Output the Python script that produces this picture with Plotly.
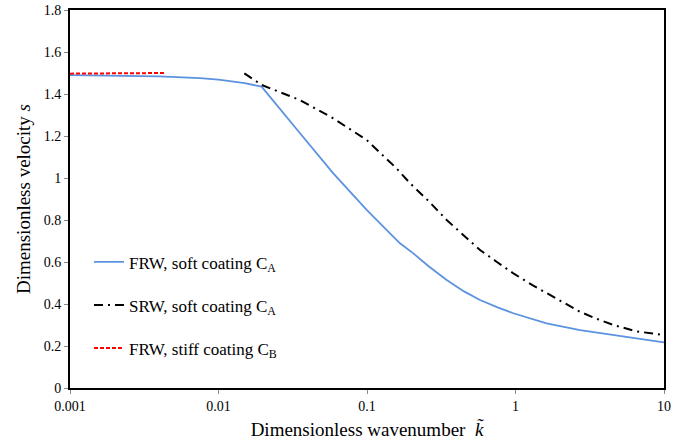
import plotly.graph_objects as go

# FRW, soft coating C_A
frw_soft_k = [0.001, 0.002, 0.004, 0.0075, 0.01, 0.015, 0.0195, 0.0354, 0.0593, 0.0995,
              0.1224, 0.1667, 0.205, 0.26, 0.344, 0.45, 0.577, 0.75, 0.967, 1.62, 2.72, 4.56, 10]
frw_soft_s = [1.490, 1.488, 1.484, 1.476, 1.468, 1.452, 1.435, 1.213, 1.022, 0.848,
              0.784, 0.689, 0.641, 0.58, 0.514, 0.46, 0.419, 0.385, 0.356, 0.308, 0.276, 0.252, 0.217]

# SRW, soft coating C_A
srw_soft_k = [0.01493, 0.01954, 0.0354, 0.0593, 0.0995, 0.158, 0.195, 0.26, 0.344, 0.45,
              0.577, 0.75, 0.967, 1.3, 1.62, 2.1, 2.72, 3.5, 4.56, 6.5, 10]
srw_soft_s = [1.498, 1.443, 1.371, 1.284, 1.181, 1.046, 0.975, 0.89, 0.80, 0.725,
              0.657, 0.60, 0.546, 0.49, 0.451, 0.405, 0.363, 0.33, 0.30, 0.27, 0.252]

# FRW, stiff coating C_B
frw_stiff_k = [0.001, 0.00443]
frw_stiff_s = [1.497, 1.50]

x_tickvals = [0.001, 0.01, 0.1, 1, 10]
x_ticktext = ["0.001", "0.01", "0.1", "1", "10"]
y_tickvals = [0, 0.2, 0.4, 0.6, 0.8, 1.0, 1.2, 1.4, 1.6, 1.8]
y_ticktext = ["0", "0.2", "0.4", "0.6", "0.8", "1", "1.2", "1.4", "1.6", "1.8"]

font_family = "Times New Roman"

fig = go.Figure()
fig.add_trace(go.Scatter(x=frw_soft_k, y=frw_soft_s, mode="lines",
                         name="FRW, soft coating C<sub>A</sub>", legendgroup="a",
                         line=dict(color="#5b93e0", width=1.8)))
fig.add_trace(go.Scatter(x=srw_soft_k, y=srw_soft_s, mode="lines",
                         name="SRW, soft coating C<sub>A</sub>", legendgroup="b",
                         line=dict(color="black", width=2, dash="9px,5px,2px,5px")))
fig.add_trace(go.Scatter(x=frw_stiff_k, y=frw_stiff_s, mode="lines",
                         name="FRW, stiff coating C<sub>B</sub>", legendgroup="c",
                         line=dict(color="red", width=2, dash="4px,2px")))

fig.update_layout(
    width=700, height=441,
    margin=dict(l=70, r=36, t=10, b=53, autoexpand=False),
    paper_bgcolor="white", plot_bgcolor="white",
    font=dict(family=font_family, color="black", size=14),
    showlegend=True,
    legend=dict(x=0.032, y=0.38, xanchor="left", yanchor="top",
                bgcolor="rgba(0,0,0,0)", font=dict(size=17, family=font_family),
                tracegroupgap=18, itemwidth=30),
    xaxis=dict(type="log", range=[-3, 1], tickvals=x_tickvals, ticktext=x_ticktext,
               showgrid=False, zeroline=False, showline=True, linecolor="black", linewidth=2,
               mirror=True, ticks="outside", ticklen=4, tickcolor="#888", automargin=False,
               tickfont=dict(size=14, family=font_family),
               title=dict(text="Dimensionless wavenumber  <i>k̃</i>",
                          font=dict(size=19, family=font_family), standoff=10)),
    yaxis=dict(range=[0, 1.8], tickvals=y_tickvals, ticktext=y_ticktext,
               showgrid=False, zeroline=False, showline=True, linecolor="black", linewidth=2,
               mirror=True, ticks="outside", ticklen=4, tickcolor="#888", automargin=False,
               tickfont=dict(size=14, family=font_family),
               title=dict(text="Dimensionless velocity <i>s</i>",
                          font=dict(size=19, family=font_family), standoff=8)),
)

fig.write_html("out.html", config={"displayModeBar": False},
               post_script="document.body.style.margin='0';")
